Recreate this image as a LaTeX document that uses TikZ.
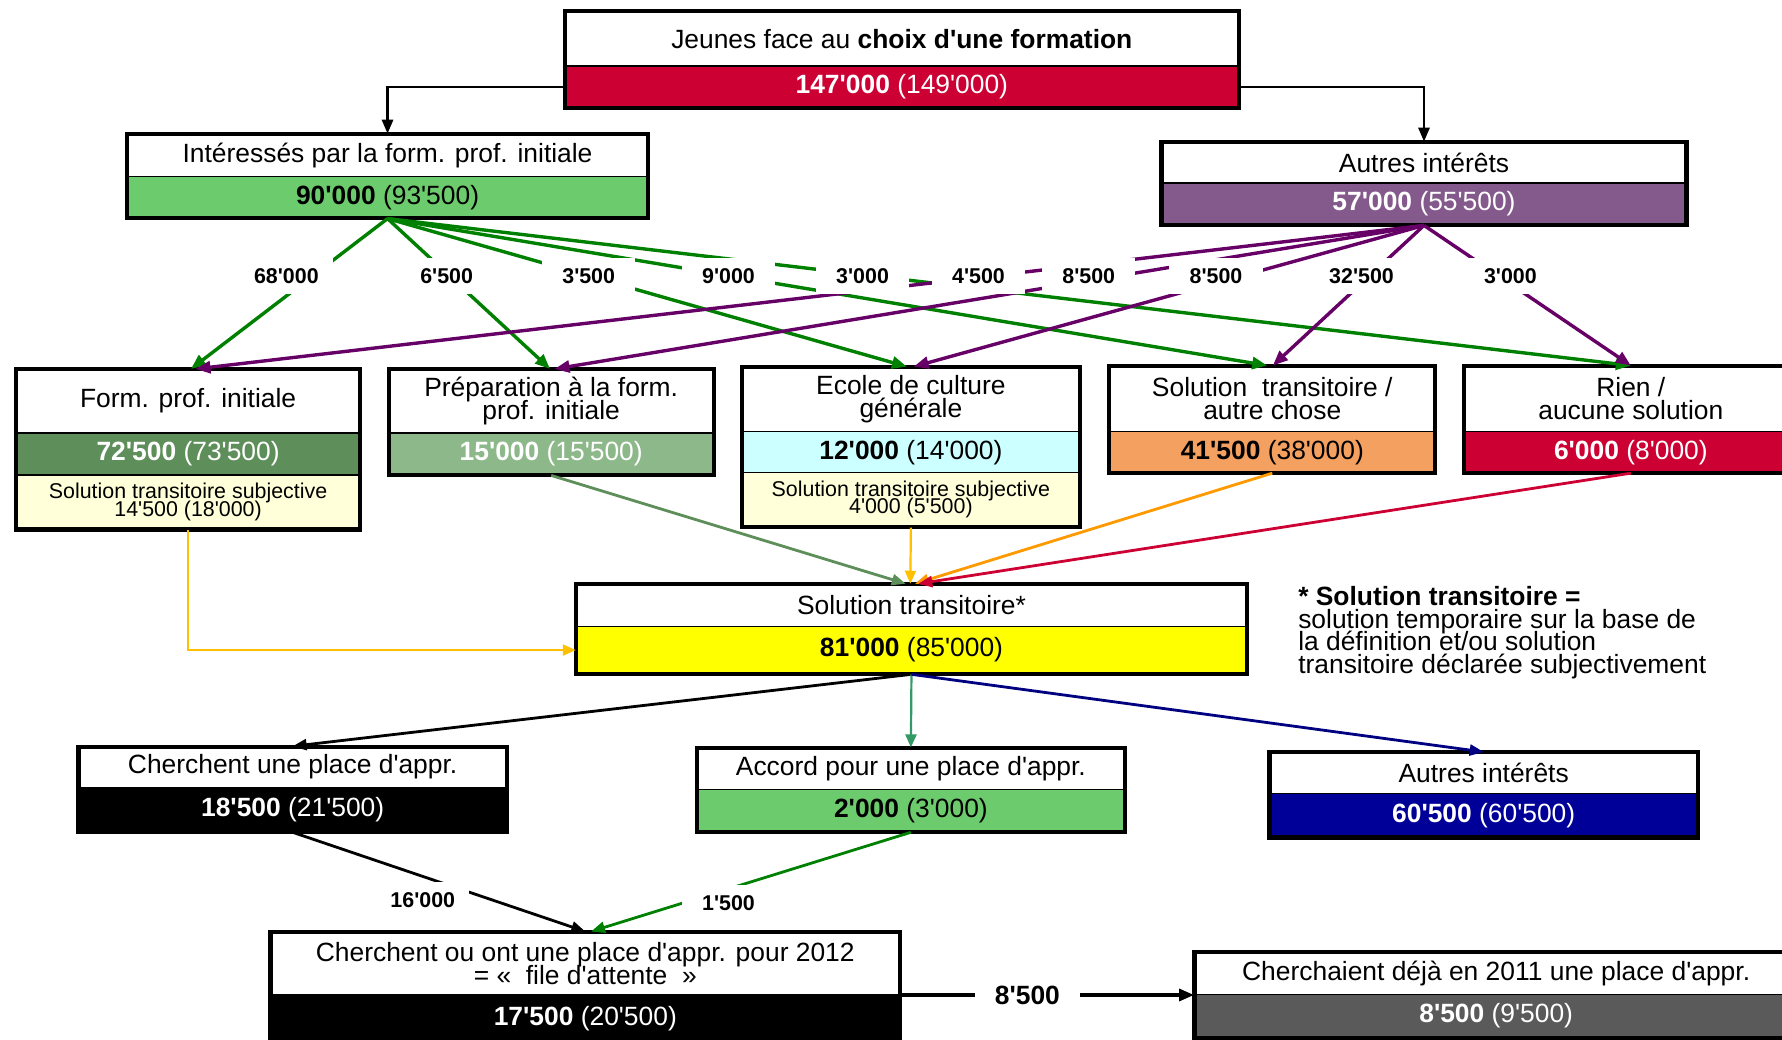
\documentclass[tikz,border=0pt]{standalone}
\usepackage{fontspec}
\newfontfamily\arial{Liberation Sans}
\usetikzlibrary{arrows.meta,fit,calc}

\definecolor{cred}{HTML}{CC0033}
\definecolor{cgreen}{HTML}{6CCB6C}
\definecolor{cpurple}{HTML}{845A8C}
\definecolor{cdkgreen}{HTML}{5E8F5A}
\definecolor{cprep}{HTML}{8DB88A}
\definecolor{ccyan}{HTML}{CCFFFF}
\definecolor{ccream}{HTML}{FFFFD9}
\definecolor{corange}{HTML}{F4A060}
\definecolor{cyellow}{HTML}{FFFF00}
\definecolor{cnavy}{HTML}{000099}
\definecolor{cgray}{HTML}{5A5A5A}
\definecolor{lgreen}{HTML}{008000}
\definecolor{lpurple}{HTML}{660066}
\definecolor{lgold}{HTML}{FFC000}
\definecolor{lorange}{HTML}{FF9900}
\definecolor{lsea}{HTML}{339966}
\definecolor{lnavy}{HTML}{000080}

\newcommand{\fs}[2]{\arial\fontsize{#1}{#2}\selectfont\lineskiplimit=-30pt\lineskip=0pt}

\tikzset{
  boxborder/.style={draw=black, line width=2.1pt},
  splitline/.style={draw=black, line width=0.6pt},
  boxarea/.style={inner sep=0pt, draw=none},
  ttl/.style={font=\fs{13.2}{11.6}, align=center, inner sep=0pt},
  val/.style={font=\fs{13.2}{13.2}, inner sep=0pt},
  sub/.style={font=\fs{10.7}{8.9}, align=center, inner sep=0pt},
  legendtext/.style={font=\fs{13.2}{11.2}, align=left, inner sep=0pt},
  flowthick/.style={line width=1.7pt, -{Triangle[length=7.5pt,width=6pt]}},
  flowmed/.style={line width=1.4pt, -{Triangle[length=7pt,width=5.5pt]}},
  flowthin/.style={line width=1.1pt, -{Triangle[length=6.5pt,width=5.5pt]}},
  lbl/.style={fill=white, font=\fs{10.7}{10.7}\bfseries, minimum width=46.6pt, minimum height=18.2pt, inner sep=0pt},
  biglbl/.style={lbl, font=\fs{13.2}{13.2}\bfseries, minimum width=52.3pt},
}

% name, x1, y1, x2, ysplit, y2, colour, title, value
\newcommand{\splitbox}[9]{%
  \fill[black] (#2+1.5,#3+1.5) rectangle (#4+1.5,#6+1.5);
  \fill[white] (#2,#3) rectangle (#4,#5);
  \fill[#7] (#2,#5) rectangle (#4,#6);
  \draw[splitline] (#2,#5) -- (#4,#5);
  \draw[boxborder] (#2,#3) rectangle (#4,#6);
  \node[boxarea, fit={(#2,#3) (#4,#6)}] (#1) {};
  \node[ttl] (#1-t) at ({(#2+#4)/2},{(#3+#5)/2}) {#8};
  \node[val] (#1-b) at ({(#2+#4)/2},{(#5+#6)/2}) {#9};
}

\begin{document}
\begin{tikzpicture}[x=0.56824pt,y=-0.56824pt]
\useasboundingbox (0,0) rectangle (1568,915);
\clip (0,0) rectangle (1568,915);

% ---------- boxes ----------
\splitbox{jeunes}{497}{10}{1090}{58}{95}{cred}{Jeunes face au \textbf{choix d'une formation}}{\color{white}\textbf{147'000} (149'000)}
\splitbox{inter}{112}{118}{570}{155}{192}{cgreen}{Intéressés par la form. prof. initiale}{\textbf{90'000} (93'500)}
\splitbox{autres1}{1022}{125}{1484}{161}{198}{cpurple}{Autres intérêts}{\color{white}\textbf{57'000} (55'500)}

% Form. prof. initiale (three parts)
\fill[black] (15.5,326.5) rectangle (318.5,467.5);
\fill[white] (14,325) rectangle (317,381);
\fill[cdkgreen] (14,381) rectangle (317,418);
\fill[ccream] (14,418) rectangle (317,466);
\draw[splitline] (14,381) -- (317,381) (14,418) -- (317,418);
\draw[boxborder] (14,325) rectangle (317,466);
\node[boxarea, fit={(14,325) (317,466)}] (form) {};
\node[ttl] (form-t) at (165.5,353) {Form. prof. initiale};
\node[val] (form-b) at (165.5,399.5) {\color{white}\textbf{72'500} (73'500)};
\node[sub] (form-s) at (165.5,441.5) {Solution transitoire subjective\\14'500 (18'000)};

\splitbox{prep}{342}{325}{628}{381}{418}{cprep}{Préparation à la form.\\prof. initiale}{\color{white}\textbf{15'000} (15'500)}

% Ecole de culture generale (three parts)
\fill[black] (654.5,324.5) rectangle (951.5,465.5);
\fill[white] (653,323) rectangle (950,380);
\fill[ccyan] (653,380) rectangle (950,416);
\fill[ccream] (653,416) rectangle (950,464);
\draw[splitline] (653,380) -- (950,380) (653,416) -- (950,416);
\draw[boxborder] (653,323) rectangle (950,464);
\node[boxarea, fit={(653,323) (950,464)}] (ecole) {};
\node[ttl] (ecole-t) at (801.5,351.5) {Ecole de culture\\générale};
\node[val] (ecole-b) at (801.5,398) {\textbf{12'000} (14'000)};
\node[sub] (ecole-s) at (801.5,439.5) {Solution transitoire subjective\\4'000 (5'500)};

\splitbox{soltr}{976}{322}{1263}{380}{416}{corange}{Solution\ \ transitoire /\\autre chose}{\textbf{41'500} (38'000)}
\splitbox{rien}{1288}{322}{1582}{380}{416}{cred}{Rien /\\aucune solution}{\color{white}\textbf{6'000} (8'000)}

\splitbox{solstar}{507}{514}{1097}{551}{593}{cyellow}{Solution transitoire*}{\textbf{81'000} (85'000)}

\splitbox{cherch}{69}{657}{446}{693}{732}{black}{Cherchent une place d'appr.}{\color{white}\textbf{18'500} (21'500)}
\splitbox{accord}{613}{658}{990}{695}{732}{cgreen}{Accord pour une place d'appr.}{\textbf{2'000} (3'000)}
\splitbox{autres2}{1117}{662}{1494}{698}{737}{cnavy}{Autres intérêts}{\color{white}\textbf{60'500} (60'500)}

\splitbox{file}{238}{820}{792}{875}{917}{black}{Cherchent ou ont une place d'appr. pour 2012\\= «\ \ file d'attente\ \ »}{\color{white}\textbf{17'500} (20'500)}
\splitbox{deja}{1051}{838}{1582}{875}{913}{cgray}{Cherchaient déjà en 2011 une place d'appr.}{\color{white}\textbf{8'500} (9'500)}

% legend
\node[legendtext, anchor=north west] (legend) at (1142,516) {\textbf{* Solution transitoire =}\\solution temporaire sur la base de\\la définition et/ou solution\\transitoire déclarée subjectivement};

% ---------- connectors ----------
\draw[flowmed] (jeunes.west |- jeunes-b.center) -| (inter.north);
\draw[flowmed] (jeunes.east |- jeunes-b.center) -| (autres1.north);

% from "Intéressés"
\draw[flowthick, lgreen] (inter.south) -- ($(form.north)+(2.5,0)$);
\draw[flowthick, lgreen] (inter.south) -- ($(prep.north)+(-1,0)$);
\draw[flowthick, lgreen] (inter.south) -- ($(ecole.north)+(-3.5,0)$);
\draw[flowthick, lgreen] (inter.south) -- ($(soltr.north)+(-4.5,0)$);
\draw[flowthick, lgreen] (inter.south) -- (rien.north);

% from "Autres intérêts"
\draw[flowthick, lpurple] (autres1.south) -- ($(form.north)+(6.5,0)$);
\draw[flowthick, lpurple] (autres1.south) -- ($(prep.north)+(3,0)$);
\draw[flowthick, lpurple] (autres1.south) -- ($(ecole.north)+(2.5,0)$);
\draw[flowthick, lpurple] (autres1.south) -- ($(soltr.north)+(0.5,0)$);
\draw[flowthick, lpurple] (autres1.south) -- (rien.north);

% flow labels
\node[lbl] (l1) at (252,243) {68'000};
\node[lbl] (l2) at (393,243) {6'500};
\node[lbl] (l3) at (518,243) {3'500};
\node[lbl] (l4) at (641,243) {9'000};
\node[lbl] (l5) at (759,243) {3'000};
\node[lbl] (l6) at (861,243) {4'500};
\node[lbl] (l7) at (958,243) {8'500};
\node[lbl] (l8) at (1070,243) {8'500};
\node[lbl] (l9) at (1198,243) {32'500};
\node[lbl] (l10) at (1329,243) {3'000};

% into "Solution transitoire*"
\draw[flowthin, lgold] (form.south) |- (solstar.west |- solstar-b.center);
\draw[flowmed, cdkgreen] (prep.south) -- ($(solstar.north)+(-5,0)$);
\draw[flowthin, lgold] (ecole.south) -- ($(solstar.north)+(-1,0)$);
\draw[flowmed, lorange] (soltr.south) -- ($(solstar.north)+(3,0)$);
\draw[flowmed, cred] (rien.south) -- ($(solstar.north)+(6,0)$);

% out of "Solution transitoire*"
\draw[flowmed, black] (solstar.south) -- (cherch.north);
\draw[flowthin, lsea] (solstar.south) -- (accord.north);
\draw[flowmed, lnavy] (solstar.south) -- (autres2.north);

% to the waiting list
\draw[flowmed, black] (cherch.south) -- (file.north);
\draw[flowmed, lgreen] (accord.south) -- ($(file.north)+(5,0)$);
\draw[flowthick, black] (file.east |- deja.west) -- (deja.west);

\node[lbl] (l11) at (372,792) {16'000};
\node[lbl] (l12) at (641,795) {1'500};
\node[biglbl] (l13) at (904,876) {8'500};
\end{tikzpicture}
\end{document}
